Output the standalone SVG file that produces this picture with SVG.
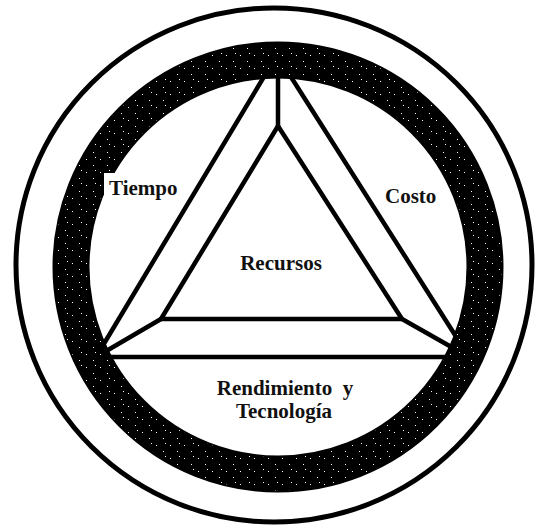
<svg xmlns="http://www.w3.org/2000/svg" width="536" height="527" viewBox="0 0 536 527">
  <style>
    .ln { stroke: #000; stroke-width: 4.5; fill: none; stroke-linecap: round; stroke-linejoin: round; }
    .lbl { font-family: "Liberation Serif", "Times New Roman", serif; font-weight: bold; font-size: 21px; fill: #111; }
  </style>
  <defs>
    <pattern id="dots" width="14" height="13" patternUnits="userSpaceOnUse">
      <rect x="2" y="3" width="1" height="1" fill="#fff"/>
      <rect x="9" y="9" width="1" height="1" fill="#fff"/>
      <rect x="11" y="1" width="1" height="1" fill="#fff"/>
    </pattern>
  </defs>
  <rect width="536" height="527" fill="#fff"/>

  <g id="outer-circle">
    <ellipse cx="274" cy="265" rx="258" ry="257" fill="none" stroke="#000" stroke-width="5"/>
  </g>

  <g id="connectors">
    <!-- outer triangle -->
    <line class="ln" x1="277" y1="55" x2="96" y2="357"/>
    <line class="ln" x1="277" y1="55" x2="469" y2="357"/>
    <line class="ln" x1="96" y1="357" x2="469" y2="357"/>
    <!-- inner triangle -->
    <polygon class="ln" points="278,126 161,319 402,319"/>
    <!-- spokes -->
    <line class="ln" x1="278" y1="126" x2="278" y2="60"/>
    <line class="ln" x1="161" y1="319" x2="96" y2="357"/>
    <line class="ln" x1="402" y1="319" x2="469" y2="357"/>
  </g>

  <g id="ring">
    <circle cx="278" cy="267" r="207" fill="none" stroke="#000" stroke-width="37"/>
    <circle cx="278" cy="267" r="207" fill="none" stroke="url(#dots)" stroke-width="33"/>
  </g>

  <g id="tiempo">
    <rect x="104" y="173" width="76" height="26" fill="#fff"/>
    <text class="lbl" x="109" y="195">Tiempo</text>
  </g>
  <g id="costo">
    <text class="lbl" x="385" y="203">Costo</text>
  </g>
  <g id="recursos">
    <text class="lbl" x="281" y="270" text-anchor="middle">Recursos</text>
  </g>
  <g id="rendimiento">
    <text class="lbl" x="285" y="395" text-anchor="middle" xml:space="preserve">Rendimiento  y</text>
    <text class="lbl" x="284" y="418" text-anchor="middle">Tecnología</text>
  </g>
</svg>
